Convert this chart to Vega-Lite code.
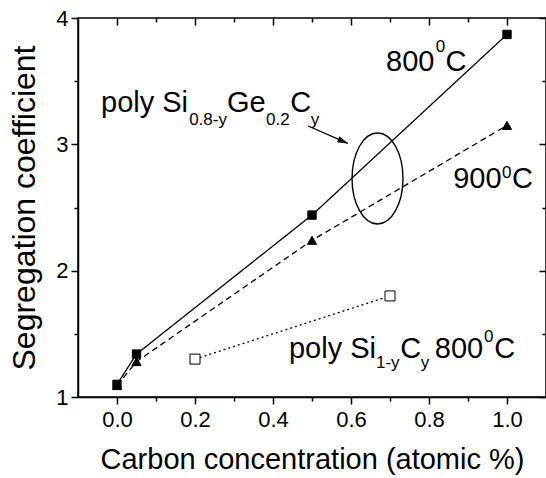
{
  "$schema": "https://vega.github.io/schema/vega-lite/v6.json",
  "width": 468,
  "height": 379,
  "autosize": {"type": "none"},
  "padding": {"left": 78, "top": 18, "right": 0, "bottom": 81},
  "background": "white",
  "config": {
    "font": "Liberation Sans",
    "view": {"stroke": "black", "strokeWidth": 1.5},
    "axis": {
      "grid": false,
      "domainColor": "black",
      "domainWidth": 1.5,
      "tickColor": "black",
      "tickWidth": 1.5,
      "labelColor": "black",
      "titleColor": "black",
      "labelFont": "Liberation Sans",
      "titleFont": "Liberation Sans",
      "labelFontWeight": "normal",
      "titleFontWeight": "normal"
    }
  },
  "datasets": {
    "series": [
      {"series": "800", "x": 0.0, "y": 1.10},
      {"series": "800", "x": 0.05, "y": 1.34},
      {"series": "800", "x": 0.5, "y": 2.44},
      {"series": "800", "x": 1.0, "y": 3.87},
      {"series": "900", "x": 0.0, "y": 1.09},
      {"series": "900", "x": 0.05, "y": 1.28},
      {"series": "900", "x": 0.5, "y": 2.24},
      {"series": "900", "x": 1.0, "y": 3.15},
      {"series": "SiC", "x": 0.2, "y": 1.30},
      {"series": "SiC", "x": 0.7, "y": 1.80}
    ],
    "labels": [
      {"kind": "main", "x": -0.041, "y": 3.256, "text": "poly Si"},
      {"kind": "script", "x": 0.185, "y": 3.153, "text": "0.8-y"},
      {"kind": "main", "x": 0.282, "y": 3.256, "text": "Ge"},
      {"kind": "script", "x": 0.382, "y": 3.153, "text": "0.2"},
      {"kind": "main", "x": 0.444, "y": 3.256, "text": "C"},
      {"kind": "script", "x": 0.497, "y": 3.153, "text": "y"},
      {"kind": "main", "x": 0.690, "y": 3.581, "text": "800"},
      {"kind": "script", "x": 0.817, "y": 3.731, "text": "0"},
      {"kind": "main", "x": 0.842, "y": 3.581, "text": "C"},
      {"kind": "main", "x": 0.862, "y": 2.654, "text": "900"},
      {"kind": "script", "x": 0.987, "y": 2.734, "text": "0"},
      {"kind": "main", "x": 1.013, "y": 2.654, "text": "C"},
      {"kind": "main", "x": 0.441, "y": 1.312, "text": "poly Si"},
      {"kind": "script", "x": 0.664, "y": 1.23, "text": "1-y"},
      {"kind": "main", "x": 0.726, "y": 1.312, "text": "C"},
      {"kind": "script", "x": 0.779, "y": 1.23, "text": "y"},
      {"kind": "main", "x": 0.815, "y": 1.312, "text": "800"},
      {"kind": "script", "x": 0.941, "y": 1.435, "text": "0"},
      {"kind": "main", "x": 0.967, "y": 1.312, "text": "C"}
    ],
    "arrow": [
      {"x": 0.49, "y": 3.145, "x2": 0.592, "y2": 3.007}
    ],
    "ring": [
      {"x": 0.668, "y": 2.73}
    ]
  },
  "resolve": {"axis": {"x": "independent", "y": "independent"}},
  "layer": [
    {
      "data": {"name": "series"},
      "mark": {"type": "line", "color": "black", "strokeWidth": 1.3},
      "encoding": {
        "x": {
          "field": "x", "type": "quantitative",
          "scale": {"domain": [-0.1, 1.1], "nice": false, "zero": false},
          "axis": {
            "orient": "bottom",
            "values": [0, 0.2, 0.4, 0.6, 0.8, 1.0],
            "format": ".1f",
            "tickSize": 7,
            "labelFontSize": 22,
            "labelPadding": 5,
            "title": "Carbon concentration (atomic %)",
            "titleFontSize": 29,
            "titlePadding": 15
          }
        },
        "y": {
          "field": "y", "type": "quantitative",
          "scale": {"domain": [1, 4], "nice": false, "zero": false},
          "axis": {
            "orient": "left",
            "values": [1, 2, 3, 4],
            "format": "d",
            "tickSize": 7,
            "labelFontSize": 22,
            "labelPadding": 3,
            "title": "Segregation coefficient",
            "titleFontSize": 32,
            "titlePadding": 14
          }
        },
        "detail": {"field": "series"},
        "strokeDash": {
          "field": "series", "type": "nominal",
          "scale": {"domain": ["800", "900", "SiC"], "range": [[1, 0], [6, 4], [2, 3]]},
          "legend": null
        }
      }
    },
    {
      "data": {"name": "series"},
      "mark": {"type": "point", "filled": true, "stroke": "black", "strokeWidth": 1, "opacity": 1},
      "encoding": {
        "x": {
          "field": "x", "type": "quantitative",
          "scale": {"domain": [-0.1, 1.1], "nice": false, "zero": false},
          "axis": {"orient": "bottom", "values": [0.1, 0.3, 0.5, 0.7, 0.9], "tickSize": 4, "labels": false, "domain": false, "title": null}
        },
        "y": {
          "field": "y", "type": "quantitative",
          "scale": {"domain": [1, 4], "nice": false, "zero": false},
          "axis": {"orient": "left", "values": [1.5, 2.5, 3.5], "tickSize": 4, "labels": false, "domain": false, "title": null}
        },
        "shape": {
          "field": "series", "type": "nominal",
          "scale": {"domain": ["800", "900", "SiC"], "range": ["square", "triangle-up", "square"]},
          "legend": null
        },
        "fill": {
          "field": "series", "type": "nominal",
          "scale": {"domain": ["800", "900", "SiC"], "range": ["black", "black", "white"]},
          "legend": null
        },
        "size": {
          "field": "series", "type": "nominal",
          "scale": {"domain": ["800", "900", "SiC"], "range": [70, 100, 50]},
          "legend": null
        }
      }
    },
    {
      "data": {"name": "labels"},
      "transform": [{"filter": "datum.kind === 'main'"}],
      "mark": {"type": "text", "align": "left", "baseline": "alphabetic", "color": "black", "font": "Liberation Sans", "fontSize": 29},
      "encoding": {
        "x": {
          "field": "x", "type": "quantitative",
          "scale": {"domain": [-0.1, 1.1], "nice": false, "zero": false},
          "axis": {"orient": "top", "values": [0, 0.2, 0.4, 0.6, 0.8, 1.0], "tickSize": -7, "labels": false, "domain": false, "title": null}
        },
        "y": {
          "field": "y", "type": "quantitative",
          "scale": {"domain": [1, 4], "nice": false, "zero": false},
          "axis": {"orient": "right", "values": [1, 2, 3, 4], "tickSize": -7, "labels": false, "domain": false, "title": null}
        },
        "text": {"field": "text"}
      }
    },
    {
      "data": {"name": "labels"},
      "transform": [{"filter": "datum.kind === 'script'"}],
      "mark": {"type": "text", "align": "left", "baseline": "alphabetic", "color": "black", "font": "Liberation Sans", "fontSize": 17},
      "encoding": {
        "x": {"field": "x", "type": "quantitative", "scale": {"domain": [-0.1, 1.1], "nice": false, "zero": false}, "axis": null},
        "y": {"field": "y", "type": "quantitative", "scale": {"domain": [1, 4], "nice": false, "zero": false}, "axis": null},
        "text": {"field": "text"}
      }
    },
    {
      "data": {"name": "ring"},
      "mark": {
        "type": "point",
        "shape": "M 0 -1 A 0.56 1 0 1 1 0 1 A 0.56 1 0 1 1 0 -1 Z",
        "size": 8281,
        "filled": false,
        "stroke": "black",
        "strokeWidth": 1.4,
        "opacity": 1
      },
      "encoding": {
        "x": {
          "field": "x", "type": "quantitative",
          "scale": {"domain": [-0.1, 1.1], "nice": false, "zero": false},
          "axis": {"orient": "top", "values": [0.1, 0.3, 0.5, 0.7, 0.9], "tickSize": -4, "labels": false, "domain": false, "title": null}
        },
        "y": {
          "field": "y", "type": "quantitative",
          "scale": {"domain": [1, 4], "nice": false, "zero": false},
          "axis": {"orient": "right", "values": [1.5, 2.5, 3.5], "tickSize": -4, "labels": false, "domain": false, "title": null}
        }
      }
    },
    {
      "data": {"name": "arrow"},
      "mark": {"type": "rule", "color": "black", "strokeWidth": 1.3},
      "encoding": {
        "x": {"field": "x", "type": "quantitative", "scale": {"domain": [-0.1, 1.1], "nice": false, "zero": false}, "axis": null},
        "y": {"field": "y", "type": "quantitative", "scale": {"domain": [1, 4], "nice": false, "zero": false}, "axis": null},
        "x2": {"field": "x2"},
        "y2": {"field": "y2"}
      }
    },
    {
      "data": {"name": "arrow"},
      "mark": {
        "type": "point",
        "shape": "M 0 0 L -1 -0.3 L -1 0.3 Z",
        "size": 440,
        "angle": 23.6,
        "filled": true,
        "color": "black",
        "opacity": 1
      },
      "encoding": {
        "x": {"field": "x2", "type": "quantitative", "scale": {"domain": [-0.1, 1.1], "nice": false, "zero": false}, "axis": null},
        "y": {"field": "y2", "type": "quantitative", "scale": {"domain": [1, 4], "nice": false, "zero": false}, "axis": null}
      }
    }
  ]
}
